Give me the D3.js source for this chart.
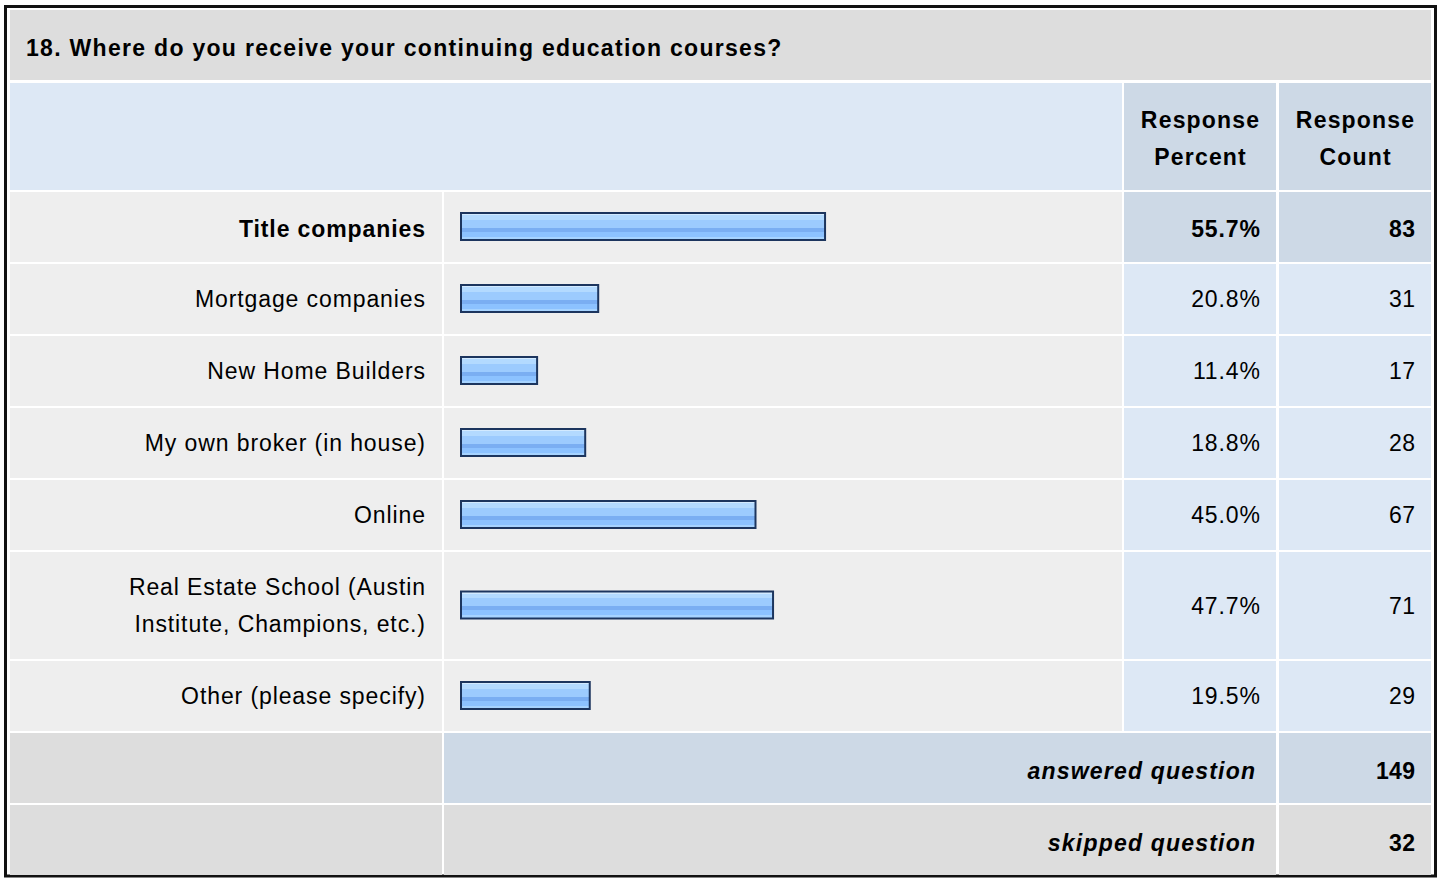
<!DOCTYPE html>
<html>
<head>
<meta charset="utf-8">
<script src="https://cdn.jsdelivr.net/npm/d3@7"></script>
<style>
  html, body { margin: 0; padding: 0; background: #ffffff; }
  svg { display: block; }
  text { font-family: "Liberation Sans", Arial, Helvetica, sans-serif; fill: #000; }
</style>
</head>
<body>
<svg id="chart" width="1440" height="878"></svg>
<script>
// ---- data ----
const title = "18. Where do you receive your continuing education courses?";
const categories = [
  ["Title companies"],
  ["Mortgage companies"],
  ["New Home Builders"],
  ["My own broker (in house)"],
  ["Online"],
  ["Real Estate School (Austin", "Institute, Champions, etc.)"],
  ["Other (please specify)"]
];
const percents = [55.7, 20.8, 11.4, 18.8, 45.0, 47.7, 19.5];
const counts = [83, 31, 17, 28, 67, 71, 29];
const highlighted = [true, false, false, false, false, false, false];
const headerPercent = ["Response", "Percent"];
const headerCount = ["Response", "Count"];
const answeredLabel = "answered question";
const answeredCount = 149;
const skippedLabel = "skipped question";
const skippedCount = 32;

// ---- layout ----
const svg = d3.select("#chart");
const FS = 23, LS = 0.8, LH = 37;
const colLabel = [10, 442], colBar = [444, 1122], colPct = [1124, 1276], colCnt = [1279, 1431];
const gap = 2;

const defs = svg.append("defs");
const grad = defs.append("linearGradient").attr("id", "barGrad")
  .attr("x1", 0).attr("y1", 0).attr("x2", 0).attr("y2", 1);
[[0, "#d2eaff"], [0.09, "#d2eaff"], [0.09, "#b3daff"], [0.25, "#b3daff"], [0.25, "#9ccbfe"],
 [0.54, "#9ccbfe"], [0.54, "#7aaef2"], [0.70, "#7aaef2"], [0.70, "#8cc2ff"], [0.88, "#8cc2ff"],
 [0.88, "#a6d3ff"], [1, "#a6d3ff"]].forEach(([o, c]) =>
  grad.append("stop").attr("offset", o).attr("stop-color", c));

// outer frame
svg.append("rect").attr("x", 5.5).attr("y", 6.5).attr("width", 1430).attr("height", 869.5)
  .attr("fill", "#ffffff").attr("stroke", "#111").attr("stroke-width", 3);

function cell(x0, x1, y0, y1, fill) {
  svg.append("rect").attr("x", x0).attr("y", y0).attr("width", x1 - x0).attr("height", y1 - y0).attr("fill", fill);
}
function txt(x, y, s, anchor, opts = {}) {
  const ls = opts.ls != null ? opts.ls : LS;
  const dx = anchor === "end" ? ls : anchor === "middle" ? ls / 2 : 0;
  return svg.append("text").attr("x", x + dx).attr("y", y).attr("text-anchor", anchor)
    .attr("font-size", opts.size || FS).attr("letter-spacing", ls)
    .attr("font-weight", opts.bold ? "bold" : "normal")
    .attr("font-style", opts.italic ? "italic" : "normal").text(s);
}

// title
cell(10, 1431, 10, 80, "#dddddd");
txt(26, 56, title, "start", { bold: true, size: 23, ls: 1.3 });

// header
cell(colLabel[0], colBar[1], 83, 190, "#dde8f5");
cell(colPct[0], colPct[1], 83, 190, "#cdd9e6");
cell(colCnt[0], colCnt[1], 83, 190, "#cdd9e6");
headerPercent.forEach((s, i) => txt((colPct[0] + colPct[1]) / 2, 128 + i * LH, s, "middle", { bold: true, ls: 1.2 }));
headerCount.forEach((s, i) => txt((colCnt[0] + colCnt[1]) / 2, 128 + i * LH, s, "middle", { bold: true, ls: 1.2 }));

// rows
const x = d3.scaleLinear().domain([0, 100]).range([0, 650]);
const barX0 = 460;
let y = 192;
categories.forEach((lines, i) => {
  const h = 70 + (lines.length - 1) * LH;
  const cy = y + h / 2;
  const bold = highlighted[i];
  const by = cy + 8 + (bold ? 2 : 0);
  cell(colLabel[0], colLabel[1], y, y + h, "#eeeeee");
  cell(colBar[0], colBar[1], y, y + h, "#eeeeee");
  cell(colPct[0], colPct[1], y, y + h, bold ? "#cdd9e6" : "#dde8f5");
  cell(colCnt[0], colCnt[1], y, y + h, bold ? "#cdd9e6" : "#dde8f5");
  const firstBase = by - (lines.length - 1) * LH / 2;
  lines.forEach((s, j) => txt(425, firstBase + j * LH, s, "end", { bold, ls: 0.9 }));
  // bar
  const w = x(percents[i]) + 4;
  svg.append("rect").attr("x", barX0 + 1).attr("y", cy - 15 + 1)
    .attr("width", w - 2).attr("height", 27)
    .attr("fill", "url(#barGrad)").attr("stroke", "#1c355e").attr("stroke-width", 2);
  txt(1260, by, percents[i].toFixed(1) + "%", "end", { bold, ls: 0.9 });
  txt(1415, by, String(counts[i]), "end", { bold, ls: 0.5 });
  y += h + gap;
});

// answered
cell(colLabel[0], colLabel[1], y, y + 70, "#dddddd");
cell(colBar[0], colPct[1], y, y + 70, "#cdd9e6");
cell(colCnt[0], colCnt[1], y, y + 70, "#cdd9e6");
txt(1255, y + 46, answeredLabel, "end", { bold: true, italic: true, ls: 1.2 });
txt(1415, y + 46, String(answeredCount), "end", { bold: true, ls: 0.3 });
y += 72;
// skipped
cell(colLabel[0], colLabel[1], y, y + 70, "#dddddd");
cell(colBar[0], colPct[1], y, y + 70, "#dddddd");
cell(colCnt[0], colCnt[1], y, y + 70, "#dddddd");
txt(1255, y + 46, skippedLabel, "end", { bold: true, italic: true, ls: 1.2 });
txt(1415, y + 46, String(skippedCount), "end", { bold: true, ls: 0.3 });
</script>
</body>
</html>
